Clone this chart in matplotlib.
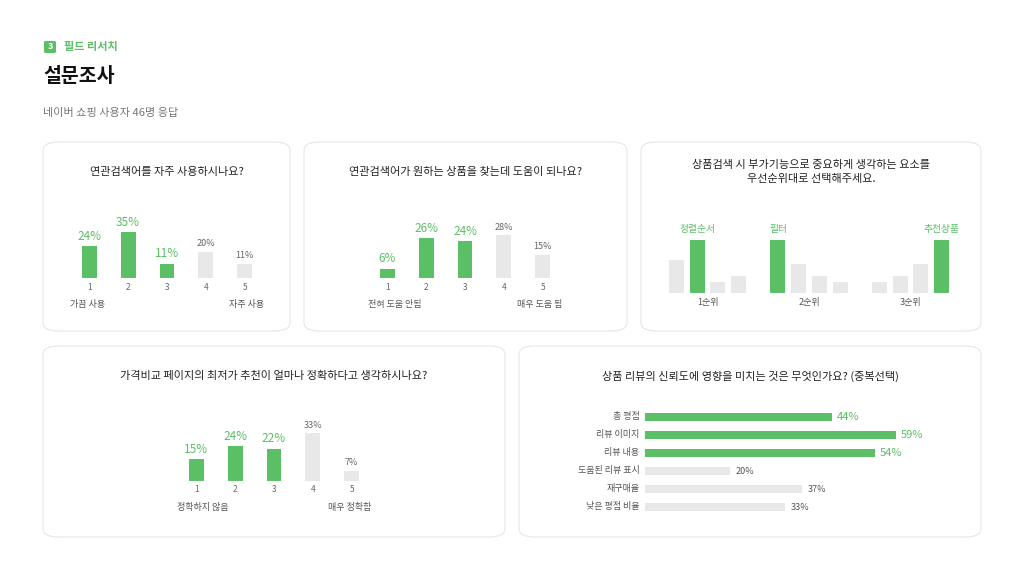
import matplotlib.pyplot as plt
from matplotlib.patches import FancyBboxPatch

plt.rcParams['font.family'] = ['Noto Sans CJK KR', 'Noto Sans CJK JP', 'Noto Sans CJK SC', 'DejaVu Sans']

W, H = 1024, 577
GREEN = '#5bbf66'
GRAY = '#e8e8e8'
TXT = '#222222'
SUB = '#777777'

# 데이터
q1_labels = ['1', '2', '3', '4', '5']
q1_values = [24, 35, 11, 20, 11]
q2_values = [6, 26, 24, 28, 15]
q4_values = [15, 24, 22, 33, 7]
rank_groups = ['1순위', '2순위', '3순위']
rank_values = [[63, 100, 20, 32], [100, 54, 32, 20], [20, 32, 54, 100]]
rank_highlight = [1, 0, 3]
rank_names = ['정렬순서', '필터', '추천상품']
q5_labels = ['총 평점', '리뷰 이미지', '리뷰 내용', '도움된 리뷰 표시', '재구매율', '낮은 평점 비율']
q5_values = [44, 59, 54, 20, 37, 33]

fig = plt.figure(figsize=(W / 100, H / 100), dpi=100)
fig.patch.set_facecolor('white')


def fx(x):
    return x / W


def fy(y):
    return 1 - y / H


def card(x0, y0, x1, y1, title):
    p = FancyBboxPatch((fx(x0), fy(y1)), fx(x1 - x0), (y1 - y0) / H,
                       boxstyle='round,pad=0,rounding_size=0.015',
                       transform=fig.transFigure, facecolor='white',
                       edgecolor='#e6e6e6', linewidth=0.8, zorder=-10)
    fig.patches.append(p)
    fig.text(fx((x0 + x1) / 2), fy(y0 + 30), title, ha='center', va='center',
             fontsize=8, color=TXT, linespacing=1.6)


def add_ax(x0, y0, x1, y1):
    ax = fig.add_axes([fx(x0), fy(y1), fx(x1 - x0), (y1 - y0) / H])
    ax.set_axis_off()
    ax.patch.set_alpha(0)
    return ax


def vbars(x0, x1, base, px_per, values, left, right):
    ax = add_ax(x0, base - 70, x1, base)
    ax.set_ylim(0, 70 / px_per)
    ax.set_xlim(-0.6, len(values) - 0.4)
    for i, v in enumerate(values):
        hl = i < 3
        ax.bar(i, v, width=0.38, color=GREEN if hl else GRAY)
        ax.text(i, v + 3.5 / px_per, f'{v}%', ha='center', va='bottom',
                fontsize=8.5 if hl else 6.5, color=GREEN if hl else '#666666')
    ax.axhline(0, color='#dddddd', lw=0.8)
    for i, l in enumerate(q1_labels):
        fig.text(fx(x0 + (x1 - x0) * (i + 0.6) / (len(values) + 0.2)), fy(base + 9), l,
                 ha='center', va='center', fontsize=6, color='#666666')
    fig.text(fx(x0 + 4), fy(base + 26), left, ha='left', va='center', fontsize=6.5, color='#555555')
    fig.text(fx(x1 - 4), fy(base + 26), right, ha='right', va='center', fontsize=6.5, color='#555555')


# 헤더
badge = FancyBboxPatch((fx(44), fy(53)), fx(12), 12 / H, boxstyle='round,pad=0,rounding_size=0.002',
                       transform=fig.transFigure, facecolor=GREEN, edgecolor='none')
fig.patches.append(badge)
fig.text(fx(50), fy(46.5), '3', ha='center', va='center', fontsize=6.5, color='white', weight='bold')
fig.text(fx(64), fy(46.5), '필드 리서치', ha='left', va='center', fontsize=8, color=GREEN, weight='bold')
fig.text(fx(43), fy(77), '설문조사', ha='left', va='center', fontsize=14, color='#111111', weight='bold')
fig.text(fx(43), fy(113), '네이버 쇼핑 사용자 46명 응답', ha='left', va='center', fontsize=8, color=SUB)

# 카드
card(43, 142, 290, 331, '연관검색어를 자주 사용하시나요?')
card(304, 142, 627, 331, '연관검색어가 원하는 상품을 찾는데 도움이 되나요?')
card(641, 142, 981, 331, '상품검색 시 부가기능으로 중요하게 생각하는 요소를\n우선순위대로 선택해주세요.')
card(43, 346, 505, 537, '가격비교 페이지의 최저가 추천이 얼마나 정확하다고 생각하시나요?')
card(519, 346, 981, 537, '상품 리뷰의 신뢰도에 영향을 미치는 것은 무엇인가요? (중복선택)')

vbars(66, 268, 278, 46 / 35, q1_values, '가끔 사용', '자주 사용')
vbars(364, 566, 278, 43 / 28, q2_values, '전혀 도움 안됨', '매우 도움 됨')
vbars(173, 375, 481, 48 / 33, q4_values, '정확하지 않음', '매우 정확함')

# 순위 차트
ax = add_ax(664, 223, 954, 293)
ax.set_ylim(0, 132)
ax.set_xlim(-0.6, 13.4)
for g, vals in enumerate(rank_values):
    for j, v in enumerate(vals):
        xpos = g * 4.9 + j
        hl = j == rank_highlight[g]
        ax.bar(xpos, v, width=0.72, color=GREEN if hl else GRAY)
        if hl:
            ax.text(xpos, v + 12, rank_names[g], ha='center', va='bottom', fontsize=7, color=GREEN)
    ax.text(g * 4.9 + 1.5, -10, rank_groups[g], ha='center', va='top', fontsize=6.5, color='#555555')
ax.axhline(0, color='#eeeeee', lw=0.8)

# 리뷰 신뢰도 가로 막대
ax = add_ax(645, 408, 940, 516)
ax.set_xlim(0, 59 * 295 / 251)
ax.set_ylim(len(q5_values) - 0.5, -0.5)
for i, (l, v) in enumerate(zip(q5_labels, q5_values)):
    top = i < 3
    ax.barh(i, v, height=0.45, color=GREEN if top else GRAY)
    ax.text(v + 1.2, i, f'{v}%', ha='left', va='center',
            fontsize=8 if top else 6.5, color=GREEN if top else '#555555')
    ax.text(-1.3, i, l, ha='right', va='center', fontsize=6.5, color='#555555')

fig.savefig('out.png', dpi=100, facecolor='white')
